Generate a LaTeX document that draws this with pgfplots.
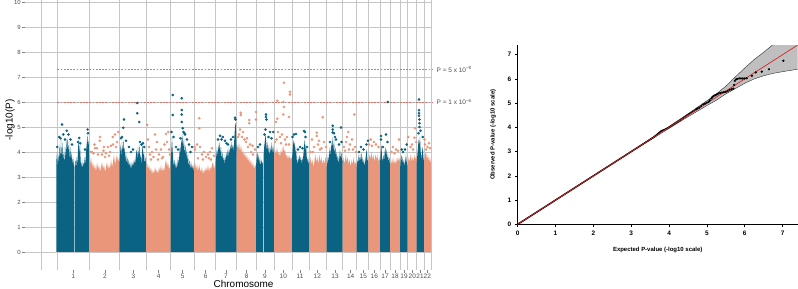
\documentclass[border=0pt]{standalone}
\usepackage{pgfplots}
\pgfplotsset{compat=1.18}
\usepackage{fontspec}
\setmainfont{Liberation Sans}
\definecolor{mblue}{RGB}{10,99,131}
\definecolor{msalm}{RGB}{233,150,122}
\definecolor{gridc}{RGB}{198,198,198}
\definecolor{thr}{RGB}{226,112,104}
\definecolor{tickc}{RGB}{77,77,77}
\definecolor{qqred}{RGB}{214,39,40}
\begin{document}
\begin{tikzpicture}
\useasboundingbox (0,0) rectangle (798bp,289bp);
% ---------------- Manhattan plot ----------------
\begin{axis}[
 at={(25bp,19bp)}, anchor=south west,
 scale only axis, width=407bp, height=270bp,
 xmin=25, xmax=432, ymin=-0.72, ymax=10.08,
 axis line style={draw=none},
 tickpos=left, tick align=outside,
 ytick={0,1,2,3,4,5,6,7,8,9,10},
 xtick={73.3,105,133.3,158.7,182.7,205.7,226,246.7,265,283.3,300,317.3,335,350.7,363.3,374.3,385,395,404,412.3,420,427.3},
 xticklabels={1,2,3,4,5,6,7,8,9,10,11,12,13,14,15,16,17,18,19,20,21,22},
 x tick label style={font=\fontsize{6.5}{7}\selectfont, text=tickc, inner sep=1bp},
 y tick label style={font=\fontsize{6}{7}\selectfont, text=tickc, inner sep=1.5bp},
 major tick length=2.5bp,
 tick style={gray, line width=0.5bp},
 ymajorgrids, major grid style={gridc, line width=0.6bp},
 extra x ticks={41,57.3,89,119.3,146,170.7,194.3,215.7,236.7,256,274,292,309.3,326.7,342.7,356.7,368.3,380,390,400,407.7,416.7,424,431},
 extra x tick labels={},
 extra x tick style={grid=major, major tick length=0pt},
 /pgf/number format/assume math mode=true,
 xlabel={Chromosome}, ylabel={-log10(P)},
 xlabel style={at={(axis description cs:0.537,-0.052)}, anchor=center, font=\fontsize{10}{12}\selectfont},
 ylabel style={at={(axis description cs:-0.0369,0.556)}, anchor=center, font=\fontsize{10}{12}\selectfont},
 clip=false,
]
% chr1
\addplot[fill=mblue, draw=none] coordinates {(56.3,0)(56.3,3.6)(57,4.0)(57.6,3.4)(58.3,3.9)(59,3.5)(59.6,4.3)(60.3,3.7)(61,4.5)(61.6,3.8)(62.3,4.4)(63,3.6)(63.6,4.0)(64.3,3.5)(65,4.2)(65.6,3.7)(66.3,4.5)(67,3.9)(67.6,4.6)(68.3,4.0)(69,4.4)(69.6,3.7)(70.3,4.2)(71,3.6)(71.6,4.0)(72.3,3.5)(73,3.8)(74,3.4)(74,0)};
\addplot[fill=mblue, draw=none] coordinates {(74.7,0)(74.7,3.4)(75.4,3.7)(76,3.3)(76.7,3.8)(77.4,3.5)(78,4.1)(78.7,4.5)(79.4,3.9)(80,4.3)(80.7,3.6)(81.4,3.4)(82,3.7)(82.7,3.3)(83.4,3.6)(84,3.4)(84.7,3.8)(85.4,3.5)(86,4.0)(86.7,4.3)(87.4,4.7)(88,4.2)(88.7,4.5)(89,3.9)(89,0)};
% chr2
\addplot[fill=msalm, draw=none] coordinates {(89,0)(89,3.7)(90,3.5)(91,3.8)(92,3.4)(93,3.6)(94,3.3)(95,3.5)(96,3.2)(97,3.6)(98,3.3)(99,3.5)(100,3.2)(101,3.4)(102,3.6)(103,3.3)(104,3.5)(105,3.2)(106,3.4)(107,3.6)(108,3.3)(109,3.5)(110,3.3)(111,3.7)(112,3.4)(113,3.6)(114,3.9)(115,3.5)(116,3.7)(117,3.9)(118,3.6)(119.3,3.8)(119.3,0)};
% chr3
\addplot[fill=mblue, draw=none] coordinates {(119.3,0)(119.3,3.5)(120,3.9)(120.7,4.3)(121.4,3.8)(122,4.4)(122.7,4.0)(123.4,4.5)(124,3.9)(124.7,4.2)(125.4,3.6)(126,4.0)(126.7,3.5)(127.4,3.8)(128,3.4)(128.7,3.7)(129.4,3.4)(130,3.6)(131,3.3)(132,3.6)(133,3.4)(134,3.7)(135,3.5)(136,3.9)(136.7,4.1)(137.4,3.7)(138,4.2)(138.7,3.8)(139.4,4.3)(140,3.7)(140.7,3.9)(141.4,3.5)(142,4.0)(142.7,4.3)(143.4,3.8)(144,4.0)(144.7,3.5)(145.4,3.8)(146,3.5)(146,0)};
% chr4
\addplot[fill=msalm, draw=none] coordinates {(146,0)(146,3.3)(147,3.6)(148,3.3)(149,3.5)(150,3.2)(151,3.4)(152,3.1)(153,3.3)(154,3.1)(155,3.4)(156,3.2)(157,3.3)(158,3.1)(159,3.4)(160,3.2)(161,3.5)(162,3.2)(163,3.4)(164,3.2)(165,3.5)(166,3.7)(167,3.4)(168,3.6)(169,3.3)(170.7,3.5)(170.7,0)};
% chr5
\addplot[fill=mblue, draw=none] coordinates {(170.7,0)(170.7,3.6)(171.4,4.1)(172,4.6)(172.7,4.0)(173.4,3.6)(174,3.4)(174.7,3.7)(175.4,3.3)(176,3.6)(176.7,3.3)(177.4,3.5)(178,3.8)(178.7,3.5)(179.4,3.9)(180,4.3)(180.7,3.9)(181.4,4.6)(182,4.2)(182.7,4.7)(183.4,4.1)(184,4.5)(184.7,3.9)(185.4,4.3)(186,3.7)(186.7,4.1)(187.4,3.6)(188,3.9)(188.7,3.4)(189.4,3.7)(190,3.3)(191,3.6)(192,3.3)(193,3.5)(194,3.2)(194,0)};
% chr6
\addplot[fill=msalm, draw=none] coordinates {(194,0)(194,3.4)(195,3.6)(196,3.3)(197,3.5)(198,3.2)(199,3.5)(200,3.3)(201,3.2)(202,3.4)(203,3.1)(204,3.3)(205,3.2)(206,3.4)(207,3.2)(208,3.5)(209,3.2)(210,3.4)(211,3.3)(212,3.5)(213,3.6)(214,3.3)(215,3.5)(215.7,3.4)(215.7,0)};
% chr7
\addplot[fill=mblue, draw=none] coordinates {(215.7,0)(215.7,3.6)(216.4,3.9)(217,4.2)(217.7,3.8)(218.4,4.3)(219,4.0)(219.7,4.4)(220.4,3.9)(221,4.2)(221.7,3.7)(222.4,4.0)(223,3.6)(223.7,3.8)(224.4,3.5)(225,3.9)(225.7,3.6)(226.4,4.0)(227,3.7)(227.7,4.1)(228.4,3.8)(229,4.2)(229.7,3.9)(230.4,4.3)(231,4.0)(231.7,4.4)(232.4,4.1)(233,4.3)(233.7,4.0)(234.4,4.6)(235,5.0)(235.7,5.2)(236.4,4.4)(236.7,4.0)(236.7,0)};
% chr8
\addplot[fill=msalm, draw=none] coordinates {(236.7,0)(236.7,3.9)(237.5,4.3)(238.3,4.1)(239,4.4)(240,4.0)(241,4.3)(242,3.9)(243,4.1)(244,3.8)(245,4.0)(246,3.7)(247,3.9)(248,3.6)(249,3.8)(250,3.5)(251,3.7)(252,3.4)(253,3.6)(254,3.3)(255,3.5)(256,3.4)(256,0)};
% chr9
\addplot[fill=mblue, draw=none] coordinates {(256,0)(256,3.4)(256.7,3.8)(257.4,4.0)(258,3.6)(258.7,3.9)(259.4,3.5)(260,3.8)(260.7,3.4)(261.4,3.7)(262,3.5)(262.8,3.6)(262.8,0)};
\addplot[fill=mblue, draw=none] coordinates {(263.5,0)(263.5,3.8)(264.2,4.2)(265,4.5)(265.7,4.7)(266.4,4.3)(267,4.0)(267.7,4.4)(268.4,3.9)(269,4.3)(269.7,3.8)(270.4,4.2)(271,3.9)(271.7,4.4)(272.4,3.9)(273,4.3)(274,3.9)(274,0)};
% chr10
\addplot[fill=msalm, draw=none] coordinates {(274,0)(274,3.8)(275,4.1)(276,3.9)(277,4.2)(278,3.9)(279,4.0)(280,3.8)(281,4.1)(282,3.9)(283,4.3)(284,4.0)(285,4.1)(286,3.8)(287,3.9)(288,3.7)(289,3.9)(290,3.7)(291,3.8)(292,3.7)(292,0)};
% chr11
\addplot[fill=mblue, draw=none] coordinates {(292,0)(292,3.7)(292.7,4.1)(293.4,4.5)(294,4.2)(294.7,4.4)(295.4,3.9)(296,4.2)(296.7,3.7)(297.4,3.5)(298,3.8)(298.7,3.6)(299.4,3.9)(300,3.6)(300.7,3.8)(301.4,3.5)(302,3.8)(302.7,3.6)(303.4,3.9)(304,4.2)(304.7,4.5)(305.4,4.0)(306,4.3)(306.7,3.8)(307.4,3.6)(308,3.8)(308.7,3.5)(309.3,3.6)(309.3,0)};
% chr12
\addplot[fill=msalm, draw=none] coordinates {(309.3,0)(309.3,3.5)(310.3,3.8)(311.3,3.5)(312.3,3.7)(313.3,3.4)(314.3,3.6)(315.3,3.9)(316.3,3.6)(317.3,3.8)(318.3,3.5)(319.3,3.9)(320.3,3.6)(321.3,3.8)(322.3,3.5)(323.3,3.7)(324.3,3.5)(325.3,3.8)(326.7,3.6)(326.7,0)};
% chr13
\addplot[fill=mblue, draw=none] coordinates {(326.7,0)(326.7,3.4)(327.4,3.6)(328,3.9)(328.7,3.6)(329.4,4.0)(330,4.2)(330.7,3.8)(331.4,4.4)(332,4.1)(332.7,4.6)(333.4,4.0)(334,4.5)(334.7,3.9)(335.4,4.2)(336,3.7)(336.7,4.0)(337.4,3.6)(338,3.9)(338.7,3.5)(339.4,3.8)(340,4.1)(340.7,3.7)(341.4,4.0)(342,3.6)(342.7,3.7)(342.7,0)};
% chr14
\addplot[fill=msalm, draw=none] coordinates {(342.7,0)(342.7,3.5)(343.7,3.8)(344.7,3.5)(345.7,3.9)(346.7,3.6)(347.7,3.8)(348.7,3.5)(349.7,3.7)(350.7,3.4)(351.7,3.7)(352.7,3.5)(353.7,3.8)(354.7,3.5)(355.7,3.6)(356.7,3.4)(356.7,0)};
% chr15
\addplot[fill=mblue, draw=none] coordinates {(356.7,0)(356.7,3.4)(357.4,3.7)(358,3.5)(358.7,3.9)(359.4,3.6)(360,3.9)(360.7,3.6)(361.4,4.0)(362,3.5)(362.7,3.8)(363.4,3.5)(364,3.7)(364.7,3.4)(365.4,3.7)(366,3.9)(366.7,4.1)(367.4,3.7)(368.3,3.6)(368.3,0)};
% chr16
\addplot[fill=msalm, draw=none] coordinates {(368.3,0)(368.3,3.6)(369.3,3.9)(370.3,3.7)(371.3,4.0)(372.3,3.7)(373.3,3.9)(374.3,3.6)(375.3,3.9)(376.3,3.7)(377.3,3.9)(378.3,3.6)(379.3,3.8)(380,3.6)(380,0)};
% chr17
\addplot[fill=mblue, draw=none] coordinates {(380,0)(380,3.5)(380.7,4.0)(381.4,4.3)(382,3.8)(382.7,3.6)(383.4,3.9)(384,3.6)(384.7,4.0)(385.4,4.2)(386,3.8)(386.7,4.1)(387.4,3.7)(388,3.9)(388.7,3.6)(389.4,3.8)(390,3.4)(390,0)};
% chr18
\addplot[fill=msalm, draw=none] coordinates {(390,0)(390,3.4)(391,3.7)(392,3.5)(393,3.8)(394,3.5)(395,3.7)(396,3.5)(397,3.8)(398,3.6)(399,3.8)(400,3.6)(400,0)};
% chr19
\addplot[fill=mblue, draw=none] coordinates {(400,0)(400,3.3)(400.7,3.7)(401.4,3.9)(402,3.5)(402.7,3.8)(403.4,3.5)(404,3.7)(404.7,3.4)(405.4,3.7)(406,3.9)(406.7,3.6)(407.7,3.4)(407.7,0)};
% chr20
\addplot[fill=msalm, draw=none] coordinates {(407.7,0)(407.7,3.5)(408.7,3.8)(409.7,3.6)(410.7,3.9)(411.7,3.6)(412.7,3.8)(413.7,3.6)(414.7,3.9)(415.7,3.7)(416.7,3.8)(416.7,0)};
% chr21
\addplot[fill=mblue, draw=none] coordinates {(416.7,0)(416.7,3.6)(417.4,3.9)(418,4.2)(418.7,4.5)(419.4,4.3)(420,4.6)(420.7,4.0)(421.4,3.7)(422,4.0)(422.7,4.2)(423.4,3.8)(424,3.6)(424,0)};
% chr22
\addplot[fill=msalm, draw=none] coordinates {(424,0)(424,3.6)(425,3.9)(426,4.0)(427,3.7)(428,3.9)(429,3.6)(430,3.8)(431,3.5)(431,0)};
% scattered points, odd chromosomes
\addplot[only marks, mark=*, mark size=1.05bp, color=mblue] coordinates {
(62,5.1)(59.3,4.6)(63.3,4.7)(66.7,4.85)(68.5,4.7)(70.5,4.5)(72,4.3)(79.3,4.56)(80.2,4.35)(88,4.75)(87.6,4.9)(57.3,4.2)(60.5,4.55)(65,4.5)(78,4.4)(85,4.1)
(124,5.3)(123.3,4.97)(137.3,5.96)(137.3,5.55)(139.3,5.2)(122,4.6)(126,4.45)(129,4.2)(131,4.0)(133,4.1)(143,4.35)(144.3,4.2)(140,4.4)(121,4.55)(141.5,4.3)
(172.7,6.28)(181.7,6.15)(181.7,5.68)(181.7,5.5)(172.7,5.48)(181.7,5.2)(182.7,4.95)(183.5,4.8)(185,4.7)(187,4.5)(189,4.3)(171.5,4.8)(173.5,4.6)(176,4.2)(178,4.1)(180.5,4.55)(184.5,4.75)(190.5,4.0)(192,4.2)
(235,5.37)(235.5,5.3)(222.7,4.6)(221.5,4.5)(225,4.45)(228,4.3)(231,4.5)(233,4.6)(218,4.5)(220,4.65)(226.5,4.35)
(266,5.5)(266,5.4)(266.5,5.3)(258,4.2)(260,4.3)(268.5,4.6)(270,4.8)(273.3,4.8)(271.5,4.55)(264.5,4.7)(265.5,4.9)
(296,4.72)(305,4.8)(305.5,4.6)(304,4.84)(292.5,4.6)(294,4.7)(300,4.2)(307,4.2)(298,4.1)(302.5,4.15)
(332.7,5.05)(332.7,4.9)(332.7,4.78)(341,4.98)(335,4.6)(336,4.5)(339,4.3)(330,4.4)(334,4.75)(341.5,4.4)
(368,4.45)(361,4.2)(363.5,4.1)(366.5,4.3)(359,4.0)
(387.7,6.0)(381,4.64)(381,4.5)(386,4.7)(387.5,4.4)(383,4.2)
(401.7,4.1)(406.7,4.3)(405,4.1)(403,4.0)
(419,6.1)(419,5.67)(419,5.55)(419,5.45)(419.5,5.3)(419.5,5.15)(419.5,5.0)(422.7,4.6)(418.5,4.75)(420.5,4.85)
};
% scattered points, even chromosomes
\addplot[only marks, mark=*, mark size=1.05bp, color=msalm] coordinates {
(92,4.0)(93.5,3.95)(94.5,4.3)(95,4.15)(97,4.15)(98,3.9)(99.7,4.45)(100,4.6)(102,3.9)(103.5,4.05)(104,4.2)(106,3.95)(108,4.2)(109,3.85)(110,4.0)(111,4.25)(112.7,4.6)(113,4.3)(115,4.7)(116,4.2)(117,4.4)(118.3,4.8)(90.5,4.0)(105,3.8)
(147.3,5.08)(148,4.5)(149,4.2)(150,3.9)(151,3.7)(152,4.0)(153.5,3.8)(155,4.7)(156,4.1)(157,4.4)(158,3.7)(159,3.9)(161,4.1)(162,3.75)(163,3.8)(164.5,4.3)(166,4.72)(167,4.4)(168.3,4.8)(169,4.1)(170,3.9)
(199.3,5.35)(199.3,4.95)(195,4.1)(197,4.3)(200,4.2)(202,3.9)(204,4.0)(206,3.8)(208,3.9)(210,4.0)(212,4.15)(214,3.85)(194.5,4.2)(198,3.75)(203,3.7)(209,3.75)(211,3.7)
(240.7,5.57)(240.7,5.48)(249.3,5.28)(249.3,5.15)(256,5.6)(256,5.3)(239,4.7)(240,4.9)(242,4.6)(243,4.8)(244.5,4.5)(246,4.4)(248,4.2)(251,4.0)(253,3.9)(255,4.1)(238,4.6)(247,4.55)(250,4.3)(252.5,4.25)
(284,6.77)(290,6.41)(290,6.3)(277.3,6.05)(283.3,6.0)(284,5.8)(283.3,5.5)(289,5.4)(277.3,5.33)(276,5.2)(278,4.8)(280,4.6)(282,4.7)(285,4.5)(287,4.6)(289,4.3)(276.5,4.5)(281,4.35)(286,4.3)(275,4.4)
(322.7,5.39)(316.7,4.77)(316.7,4.64)(312,4.5)(314,4.2)(318,4.3)(320,4.1)(324,4.4)(326,4.2)(310.5,4.0)(313,4.0)(321.5,4.15)(319,4.45)
(354.3,5.5)(348.3,4.8)(344,4.2)(346,4.4)(347,4.6)(350,4.3)(352,4.5)(355,4.2)(356,4.0)(345,4.05)(349,4.1)(353,4.1)
(370.7,4.5)(374,4.4)(376,4.3)(378.5,4.2)(372,4.25)(369,4.3)
(399,4.5)(391.5,4.0)(393,4.2)(396,4.1)(398,4.05)(394.5,3.95)
(415,4.95)(414.5,4.57)(408.3,4.6)(410.5,4.2)(412,4.3)(416.3,4.4)(413,4.1)
(425,4.3)(426,4.1)(427.5,4.2)(430,4.15)(429,4.35)(424.5,4.5)
};
% significance thresholds
\addplot[thr, line width=0.6bp, dash pattern=on 1.8bp off 1.4bp] coordinates {(57.3,7.30103)(432,7.30103)};
\addplot[thr, line width=0.6bp, dash pattern=on 1.8bp off 1.4bp] coordinates {(57.3,6)(432,6)};
\node[anchor=west, inner sep=0pt, text=tickc, font=\fontsize{6.5}{7}\selectfont] at (axis cs:436.5,7.30103) {P = 5 x 10\textsuperscript{−8}};
\node[anchor=west, inner sep=0pt, text=tickc, font=\fontsize{6.5}{7}\selectfont] at (axis cs:436.5,6) {P = 1 x 10\textsuperscript{−6}};
\end{axis}
% ---------------- QQ plot ----------------
\begin{axis}[
 at={(517.7bp,64.7bp)}, anchor=south west,
 scale only axis, width=280bp, height=179.3bp,
 xmin=0, xmax=7.4, ymin=0, ymax=7.4,
 axis x line=bottom, axis y line=left,
 axis line style={-, black, line width=0.6bp},
 xtick={0,1,2,3,4,5,6,7}, ytick={0,1,2,3,4,5,6,7},
 tick align=outside, major tick length=3bp, tick style={black, line width=0.6bp},
 ticklabel style={font=\bfseries\fontsize{6.5}{7}\selectfont},
 /pgf/number format/assume math mode=true,
 xlabel={Expected P-value (-log10 scale)},
 ylabel={Observed P-value (-log10 scale)},
 xlabel style={at={(axis description cs:0.5,-0.143)}, anchor=center, font=\bfseries\fontsize{6}{7}\selectfont},
 ylabel style={at={(axis description cs:-0.088,0.5)}, anchor=center, font=\bfseries\fontsize{6}{7}\selectfont},
]
\addplot[fill=gray!50, draw=none] coordinates {(0,0)(3,3.01)(4,4.04)(4.5,4.56)(5,5.1)(5.25,5.38)(5.5,5.7)(5.75,6.08)(6,6.45)(6.25,6.8)(6.5,7.1)(6.75,7.42)(7,7.75)(7.4,8.2)(7.4,6.4)(7,6.3)(6.75,6.23)(6.5,6.13)(6.25,6.0)(6,5.82)(5.75,5.6)(5.5,5.38)(5.25,5.12)(5,4.9)(4.5,4.44)(4,3.96)(3,2.99)(0,0)};
\addplot[gray!35!black, line width=0.4bp] coordinates {(0,0)(3,3.01)(4,4.04)(4.5,4.56)(5,5.1)(5.25,5.38)(5.5,5.7)(5.75,6.08)(6,6.45)(6.25,6.8)(6.5,7.1)(6.75,7.42)(7,7.75)(7.4,8.2)};
\addplot[gray!35!black, line width=0.4bp] coordinates {(0,0)(3,2.99)(4,3.96)(4.5,4.44)(5,4.9)(5.25,5.12)(5.5,5.38)(5.75,5.6)(6,5.82)(6.25,6.0)(6.5,6.13)(6.75,6.23)(7,6.3)(7.4,6.4)};
% observed
\addplot[black, line width=1.5bp] coordinates {(0,0)(3.6,3.6)(3.7,3.73)(3.8,3.86)(3.9,3.92)(4.0,4.0)(4.3,4.3)(4.5,4.52)(4.7,4.72)};
\addplot[only marks, mark=*, mark size=0.9bp, black] coordinates {(4.72,4.75)(4.75,4.78)(4.8,4.82)(4.85,4.88)(4.9,4.95)(4.95,4.98)(5.0,5.02)(5.05,5.06)(5.08,5.12)(5.12,5.2)(5.15,5.26)(5.18,5.3)(5.22,5.33)(5.26,5.36)(5.3,5.4)(5.35,5.42)(5.4,5.44)(5.45,5.45)(5.5,5.47)(5.55,5.5)(5.6,5.55)(5.65,5.57)(5.7,5.6)(5.72,5.75)(5.74,5.92)(5.77,5.98)(5.8,6.0)(5.85,6.02)(5.9,6.02)(5.95,6.02)(6.0,6.02)(6.05,6.03)(6.19,6.13)(6.29,6.27)(6.45,6.3)(6.64,6.4)(7.02,6.75)};
\addplot[qqred, line width=0.7bp] coordinates {(0,0)(7.4,7.4)};
\end{axis}
\end{tikzpicture}
\end{document}
